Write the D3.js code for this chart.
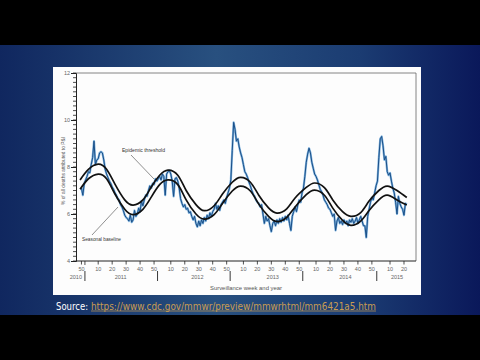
<!DOCTYPE html>
<html><head><meta charset="utf-8">
<script src="https://cdn.jsdelivr.net/npm/d3@7"></script>
<style>html,body{margin:0;padding:0;background:#000;width:480px;height:360px;overflow:hidden}</style>
</head><body><svg id="c" width="480" height="360"></svg>
<script>
// ---- data ----
const yearOffsets = {2010: 0, 2011: 52, 2012: 104, 2013: 156, 2014: 208, 2015: 261};
const years = [2010, 2011, 2012, 2013, 2014, 2015];
const firstWeek = {2010: 50, 2011: 1, 2012: 1, 2013: 1, 2014: 1, 2015: 1};
// weekly % of deaths attributed to P&I
const pi2010 = [7.1, 6.8, 7.3];
const pi2011 = [7.45,7.6,7.8,7.75,8.1,8.4,9.1,8.1,8.3,8.35,8.6,8.65,8.6,8.3,7.9,7.7,7.55,7.4,7.3,7.15,7.05,6.9,6.8,6.65,6.6,6.4,6.3,6.15,5.95,5.85,5.8,5.7,5.95,5.65,5.75,6.15,5.9,6.0,6.25,6.1,6.55,6.35,6.6,6.8,6.75,7.0,7.2,7.1,7.3,7.25,7.5,7.4];
const pi2012 = [7.5,7.6,7.45,7.7,7.6,6.8,7.7,7.8,7.85,7.7,7.4,6.75,7.5,7.55,7.4,7.1,6.65,6.45,6.3,6.4,6.2,6.25,6.05,6.1,5.9,5.75,5.9,5.6,5.45,5.7,5.5,5.75,5.6,5.85,5.7,5.95,5.8,6.05,5.9,6.1,6.2,6.45,6.2,6.35,6.15,6.4,6.5,6.6,6.45,6.7,6.9,7.1];
const pi2013 = [7.45,8.7,9.9,9.6,9.1,9.2,8.85,8.6,8.4,8.1,7.8,7.7,7.55,7.35,7.2,7.0,6.85,6.75,6.6,6.5,6.45,6.3,6.4,6.0,5.6,5.9,5.7,5.8,5.5,5.25,5.6,5.7,5.5,5.75,5.6,5.8,5.65,5.85,5.7,5.9,5.75,5.95,5.6,5.3,5.9,6.1,6.3,6.1,6.4,6.6,6.5,6.9];
const pi2014 = [7.1,7.6,8.2,8.55,8.8,8.6,8.2,7.95,7.7,7.6,7.45,7.25,7.05,6.95,6.8,6.6,6.5,6.4,6.25,6.2,6.05,5.9,6.0,5.3,5.7,5.85,5.6,5.7,5.55,5.75,5.6,5.7,5.5,5.75,5.65,5.8,5.6,5.7,5.85,5.6,5.75,5.9,5.7,5.5,5.5,5.0,5.9,6.2,6.5,6.7,6.6,6.9,7.2];
const pi2015 = [7.4,8.4,9.2,9.3,8.9,8.3,8.45,7.8,7.65,7.75,7.4,7.1,6.9,6.5,6.0,6.75,6.45,6.3,6.2,5.95,6.45,6.4];
const piByYear = {2010: pi2010, 2011: pi2011, 2012: pi2012, 2013: pi2013, 2014: pi2014, 2015: pi2015};

// seasonal baseline & epidemic threshold, read at [year, week]
const curveWeeks = [[2010,49],[2011,3],[2011,10],[2011,16],[2011,22],[2011,29],[2011,35],[2011,42],[2011,48],
  [2012,2],[2012,8],[2012,15],[2012,21],[2012,28],[2012,34],[2012,41],[2012,47],
  [2013,2],[2013,8],[2013,15],[2013,21],[2013,28],[2013,34],[2013,41],[2013,47],
  [2014,3],[2014,9],[2014,16],[2014,22],[2014,29],[2014,35],[2014,42],[2014,48],
  [2015,2],[2015,8],[2015,15],[2015,22]];
const thresholdValues = [7.45,7.9,8.12,7.9,7.27,6.6,6.38,6.6,7.15,
  7.65,7.87,7.65,7.0,6.4,6.14,6.35,6.85,
  7.35,7.56,7.35,6.8,6.26,6.04,6.22,6.68,
  7.13,7.32,7.12,6.6,6.1,5.9,6.06,6.55,
  7.0,7.19,7.0,6.7];
const baselineValues = [7.05,7.5,7.7,7.5,6.85,6.2,5.97,6.2,6.72,
  7.25,7.45,7.25,6.6,6.0,5.78,5.97,6.45,
  6.98,7.19,6.98,6.42,5.9,5.68,5.86,6.3,
  6.82,7.02,6.8,6.25,5.73,5.52,5.7,6.15,
  6.6,6.8,6.6,6.38];

const yTickValues = [4, 6, 8, 10, 12];
const xTickYears = [2010,2011,2011,2011,2011,2011,2012,2012,2012,2012,2012,2013,2013,2013,2013,2013,2014,2014,2014,2014,2014,2015,2015];
const xTickWeeks = [50,10,20,30,40,50,10,20,30,40,50,10,20,30,40,50,10,20,30,40,50,10,20];
const yearLabelWeeks = [46, 26, 29, 31, 31, 15];
const yearBoundaries = [2011, 2012, 2013, 2014, 2015];

// ---- drawing ----
const svg = d3.select("#c");
const defs = svg.append("defs");
const g1 = defs.append("linearGradient").attr("id","bg").attr("x1","0").attr("x2","1").attr("y1","0").attr("y2","0");
g1.append("stop").attr("offset","0").attr("stop-color","#10275f");
g1.append("stop").attr("offset","0.45").attr("stop-color","#28507f");
g1.append("stop").attr("offset","0.75").attr("stop-color","#1b3c72");
g1.append("stop").attr("offset","1").attr("stop-color","#0a185a");

svg.append("rect").attr("x",0).attr("y",0).attr("width",480).attr("height",360).attr("fill","#000");
svg.append("rect").attr("x",0).attr("y",45).attr("width",480).attr("height",270).attr("fill","url(#bg)");
svg.append("rect").attr("x",53).attr("y",67).attr("width",368).attr("height",228).attr("fill","#fdfdfd");

const idx = (yr, wk) => yearOffsets[yr] + wk;
const x = d3.scaleLinear().domain([46.1, 289.6]).range([76, 416]);
const y = d3.scaleLinear().domain([4, 12]).range([261, 73]);

const font = "Liberation Sans, Arial, sans-serif";

// frame
svg.append("line").attr("x1",76).attr("x2",416).attr("y1",73).attr("y2",73).attr("stroke","#666").attr("stroke-width",0.8);
svg.append("line").attr("x1",416).attr("x2",416).attr("y1",73).attr("y2",261).attr("stroke","#666").attr("stroke-width",0.8);

// y axis
const yAxis = d3.axisLeft(y).tickValues(yTickValues).tickSize(5).tickFormat(d3.format("d"));
const ya = svg.append("g").attr("transform","translate(76,0)").call(yAxis);
ya.select(".domain").attr("stroke","#222").attr("stroke-width",1);
ya.selectAll(".tick line").attr("stroke","#222");
ya.selectAll("text").attr("font-family",font).attr("font-size",5.5).attr("fill","#666").attr("x",-6);
const minorY = d3.range(40, 121, 2).map(v => v / 10);
svg.append("g").selectAll("line").data(minorY).join("line")
  .attr("x1",73).attr("x2",76).attr("y1",d=>y(d)).attr("y2",d=>y(d)).attr("stroke","#222").attr("stroke-width",0.8);

// x axis
const xTicks = xTickWeeks.map((w,i)=>({v: idx(xTickYears[i], w), w}));
const xa = svg.append("g").attr("transform","translate(0,261)");
xa.append("line").attr("x1",76).attr("x2",416).attr("y1",0).attr("y2",0).attr("stroke","#222").attr("stroke-width",1);
xa.selectAll("line.t").data(xTicks).join("line").attr("class","t")
  .attr("x1",d=>x(d.v)).attr("x2",d=>x(d.v)).attr("y1",0).attr("y2",3.5).attr("stroke","#222").attr("stroke-width",0.8);
xa.selectAll("text.t").data(xTicks).join("text").attr("class","t")
  .attr("x",d=>x(d.v)).attr("y",10).attr("text-anchor","middle")
  .attr("font-family",font).attr("font-size",5.5).attr("fill","#666").text(d=>d.w);
xa.selectAll("line.b").data(yearBoundaries).join("line").attr("class","b")
  .attr("x1",d=>x(idx(d,0)+0.5)).attr("x2",d=>x(idx(d,0)+0.5)).attr("y1",10).attr("y2",20).attr("stroke","#222").attr("stroke-width",0.9);
xa.append("line").attr("x1",x(idx(2011,0)+0.5)).attr("x2",x(idx(2011,0)+0.5)).attr("y1",0).attr("y2",4).attr("stroke","#222").attr("stroke-width",0.8);
xa.selectAll("text.yr").data(years).join("text").attr("class","yr")
  .attr("x",(d,i)=>x(idx(d, yearLabelWeeks[i]))).attr("y",17.5).attr("text-anchor","middle")
  .attr("font-family",font).attr("font-size",5.5).attr("fill","#666").text(d=>d);

svg.append("text").attr("x",246).attr("y",289.5).attr("text-anchor","middle")
  .attr("font-family",font).attr("font-size",6).attr("fill","#555")
  .attr("textLength",72).attr("lengthAdjust","spacingAndGlyphs").text("Surveillance week and year");
svg.append("text").attr("transform","translate(65,171) rotate(-90)").attr("text-anchor","middle")
  .attr("font-family",font).attr("font-size",5.5).attr("fill","#555")
  .attr("textLength",68).attr("lengthAdjust","spacingAndGlyphs").text("% of all deaths attributed to P&I");

// data line
const pts = [];
years.forEach(yr => piByYear[yr].forEach((v,i) => pts.push({t: idx(yr, firstWeek[yr] + i), v})));
const line = d3.line().x(d=>x(d.t)).y(d=>y(d.v));
svg.append("path").datum(pts).attr("d",line).attr("fill","none").attr("stroke","#5f9fd4").attr("stroke-width",2.2).attr("stroke-linejoin","round").attr("opacity",0.8);
svg.append("path").datum(pts).attr("d",line).attr("fill","none").attr("stroke","#1a4f88").attr("stroke-width",1).attr("stroke-linejoin","round");

// baseline & threshold
const smooth = d3.line().x(d=>x(d.t)).y(d=>y(d.v)).curve(d3.curveNatural);
const thr = curveWeeks.map((c,i)=>({t: idx(c[0],c[1]), v: thresholdValues[i]}));
const base = curveWeeks.map((c,i)=>({t: idx(c[0],c[1]), v: baselineValues[i]}));
[thr, base].forEach(s => svg.append("path").datum(s).attr("d",smooth).attr("fill","none").attr("stroke","#111").attr("stroke-width",1.7));

// annotations
svg.append("text").attr("x",122).attr("y",152).attr("font-family",font).attr("font-size",5.5).attr("fill","#333")
  .attr("textLength",43).attr("lengthAdjust","spacingAndGlyphs").text("Epidemic threshold");
svg.append("line").attr("x1",131).attr("y1",155).attr("x2",154).attr("y2",179).attr("stroke","#444").attr("stroke-width",0.6);
svg.append("text").attr("x",82).attr("y",241).attr("font-family",font).attr("font-size",5.5).attr("fill","#333")
  .attr("textLength",39).attr("lengthAdjust","spacingAndGlyphs").text("Seasonal baseline");
svg.append("line").attr("x1",92).attr("y1",235).attr("x2",118).attr("y2",207).attr("stroke","#444").attr("stroke-width",0.6);

// source
svg.append("text").attr("x",56).attr("y",309.5).attr("font-family","DejaVu Sans, sans-serif").attr("font-size",10)
  .attr("fill","#ffffff").attr("textLength",32).attr("lengthAdjust","spacingAndGlyphs").text("Source:");
svg.append("text").attr("x",91).attr("y",309.5).attr("font-family","DejaVu Sans, sans-serif").attr("font-size",10)
  .attr("fill","#c99c52").attr("textLength",285).attr("lengthAdjust","spacingAndGlyphs").text("https://www.cdc.gov/mmwr/preview/mmwrhtml/mm6421a5.htm");
svg.append("line").attr("x1",91).attr("x2",376).attr("y1",311).attr("y2",311).attr("stroke","#c99c52").attr("stroke-width",0.7);
</script></body></html>
